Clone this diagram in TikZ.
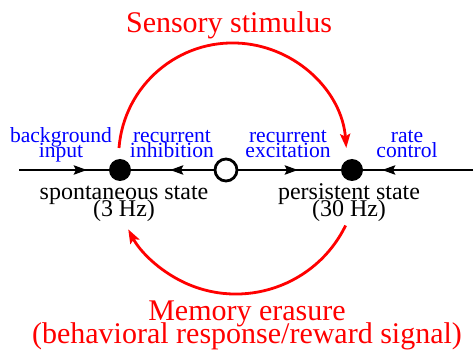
\documentclass[tikz,border=0pt]{standalone}
\usepackage{fontspec}
\setmainfont{Liberation Serif}
\usetikzlibrary{arrows.meta,decorations.markings}

\newcommand\tightlines{\lineskiplimit=-100pt\relax}

\tikzset{
  fixedpt/.style={circle,fill=black,minimum size=22pt,inner sep=0pt,outer sep=0pt},
  saddlept/.style={circle,draw=black,fill=white,line width=2.8pt,minimum size=22pt,inner sep=0pt,outer sep=0pt},
  flow/.style={postaction={decorate},decoration={markings,mark=at position #1 with {\arrow{Stealth[length=13pt,width=9pt,inset=2pt]}}}},
  inlabel/.style={text=blue,font={\fontsize{21.6}{15}\selectfont\tightlines},align=center,inner sep=0pt,anchor=base},
  statelabel/.style={font={\fontsize{24}{17}\selectfont\tightlines},align=center,inner sep=0pt,anchor=base},
  extlabel/.style={text=red,font={\fontsize{30}{23}\selectfont\tightlines},align=center,inner sep=0pt,anchor=base},
  kick/.style={draw=red,line width=2.8pt,-{Stealth[length=14pt,width=10pt,inset=2.5pt]}},
}

\begin{document}
\begin{tikzpicture}[x=1pt,y=-1pt,line width=2.8pt]
  \useasboundingbox (0,0) rectangle (474,358);

  \coordinate (inL) at (19,170);
  \coordinate (inR) at (473,170);
  \node[fixedpt] (S) at (120,170) {};
  \node[saddlept] (U) at (226,170) {};
  \node[fixedpt] (P) at (352,170) {};

  % flow along the line
  \draw[flow=68pt] (inL) -- (S);
  \draw[flow=45pt] (U) -- (S);
  \draw[flow=61pt] (U) -- (P);
  \draw[flow=91pt] (inR) -- (P);

  % switching between the two states
  \draw[kick] (S) ++(-1,-22) arc[start angle=184.5, end angle=355.5, radius=114];
  \draw[kick] (P) ++(-6.4,55.5) arc[start angle=26, end angle=152, radius=122];

  % labels (base = last line)
  \node[inlabel] (bgin) at (61,158) {background\\input};
  \node[inlabel] (inh) at (172,158) {recurrent\\inhibition};
  \node[inlabel] (exc) at (288,158) {recurrent\\excitation};
  \node[inlabel] (rate) at (407,158) {rate\\control};
  \node[statelabel] (spont) at (124,217) {spontaneous state\\(3 Hz)};
  \node[statelabel] (pers) at (349,217) {persistent state\\(30 Hz)};
  \node[extlabel] (stim) at (229,33) {Sensory stimulus};
  \node[extlabel] (erase) at (247,343) {Memory erasure\\(behavioral response/reward signal)};
\end{tikzpicture}
\end{document}
